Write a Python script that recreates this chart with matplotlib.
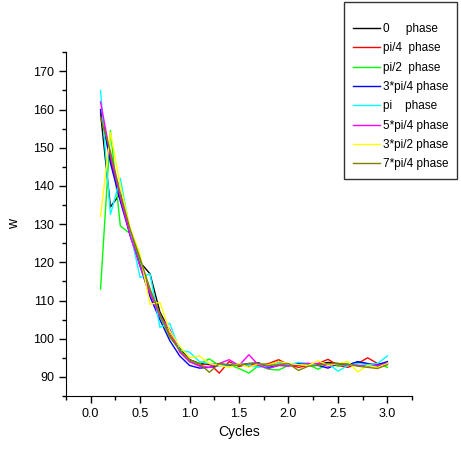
import matplotlib
matplotlib.use("Agg")
import matplotlib.pyplot as plt
from matplotlib.ticker import MultipleLocator, FormatStrFormatter

plt.rcParams["font.family"] = ["Liberation Sans", "DejaVu Sans"]

cycles = [round(0.1 * i, 1) for i in range(1, 31)]

labels = ["0     phase", "pi/4  phase", "pi/2  phase", "3*pi/4 phase",
          "pi    phase", "5*pi/4 phase", "3*pi/2 phase", "7*pi/4 phase"]
colors = ["#000000", "#ff0000", "#00ff00", "#0000ff",
          "#00ffff", "#ff00ff", "#ffff00", "#808000"]

w_0 = [159, 134.5, 138, 127, 120, 117, 107, 102, 97.5, 94.5,
       93.5, 93.2, 93.5, 93, 93.3, 92.8, 93.5, 93.2, 94, 93.2,
       93, 93.5, 93.2, 93.8, 93.5, 93.2, 93.9, 93.4, 92.8, 93.5]
w_pi4 = [159.5, 147, 137, 128, 120.5, 112, 106, 101, 97, 94,
         93, 93.5, 91, 94, 92.7, 93.5, 93, 93.5, 94.5, 93.2,
         92.5, 93, 93.5, 94.6, 93, 92.5, 93.5, 95, 93.5, 93.3]
w_pi2 = [113, 154.5, 129.5, 127.5, 120, 113, 106, 100.5, 97, 94,
         93.5, 94.7, 93, 93.2, 92.2, 91, 93, 92, 91.8, 93,
         93.5, 93.2, 92, 93.5, 92.8, 93.5, 93, 92.8, 93.5, 92.5]
w_3pi4 = [160, 146, 136, 127, 119, 111, 105, 99.5, 95.5, 93,
          92.3, 92.5, 93, 93, 93.2, 93.5, 93.7, 92.5, 93, 93.2,
          93.5, 93.5, 93, 92.3, 93.5, 93, 94, 93.5, 93.2, 94]
w_pi = [165, 132.5, 142, 128, 116, 117, 103, 104, 97, 96.5,
        94, 93.5, 93, 93.2, 93.5, 93, 92.5, 93, 93.5, 93.2,
        93.8, 93.5, 93, 93.5, 91.5, 93, 93.5, 93.2, 93.5, 95.5]
w_5pi4 = [162, 148, 137, 127, 119, 112, 106, 102.5, 96.5, 94,
          92.8, 92.5, 93.5, 94.5, 93, 95.8, 93, 92.2, 93, 92.8,
          93.2, 93.5, 93.5, 92.8, 93.5, 93.2, 93, 92.8, 93, 93.5]
w_3pi2 = [132, 154, 140, 129, 122, 109, 109.5, 102, 98, 95,
          95.5, 93.5, 93, 92.5, 93.5, 92.5, 93.5, 93.2, 94, 93.5,
          93.2, 93, 94.2, 93, 93.5, 94, 91.3, 93, 92.5, 93.5]
w_7pi4 = [158, 149, 138, 128.5, 121, 113, 106.5, 100.5, 97, 94.5,
          93.5, 91.2, 93.5, 93.2, 93, 93.5, 93.5, 93, 93.2, 93.5,
          91.7, 92.8, 93, 93.5, 93.5, 93.3, 92.8, 92.5, 92.2, 93.2]

series = [w_0, w_pi4, w_pi2, w_3pi4, w_pi, w_5pi4, w_3pi2, w_7pi4]

fig = plt.figure(figsize=(4.61, 4.5), dpi=100)
ax = fig.add_axes([0.143, 0.12, 0.751, 0.764])

lines = []
for vals, col, lab in zip(series, colors, labels):
    ln, = ax.plot(cycles, vals, color=col, linewidth=1.0, label=lab)
    lines.append(ln)

ax.set_xlim(-0.25, 3.25)
ax.set_ylim(85, 175)
ax.xaxis.set_major_locator(MultipleLocator(0.5))
ax.xaxis.set_minor_locator(MultipleLocator(0.25))
ax.yaxis.set_minor_locator(MultipleLocator(5))
ax.set_yticks(range(90, 171, 10))
ax.xaxis.set_major_formatter(FormatStrFormatter("%.1f"))
ax.spines["top"].set_visible(False)
ax.spines["right"].set_visible(False)
ax.tick_params(which="major", direction="out", length=5, width=1, labelsize=9)
ax.tick_params(which="minor", direction="out", length=3, width=1)
ax.set_xlabel("Cycles", fontsize=10)
ax.set_ylabel("w", fontsize=10, labelpad=9)

leg = fig.legend(handles=lines, loc="upper right",
                 bbox_to_anchor=(457 / 461, 1 - 2 / 450),
                 frameon=True, fancybox=False, fontsize=8.5,
                 title=" ", title_fontsize=4,
                 handlelength=2.3, handletextpad=0.25,
                 labelspacing=0.62, borderpad=0.75, borderaxespad=0)
leg.get_frame().set_edgecolor("black")
leg.get_frame().set_linewidth(1.0)

fig.savefig("out.png", dpi=100)
